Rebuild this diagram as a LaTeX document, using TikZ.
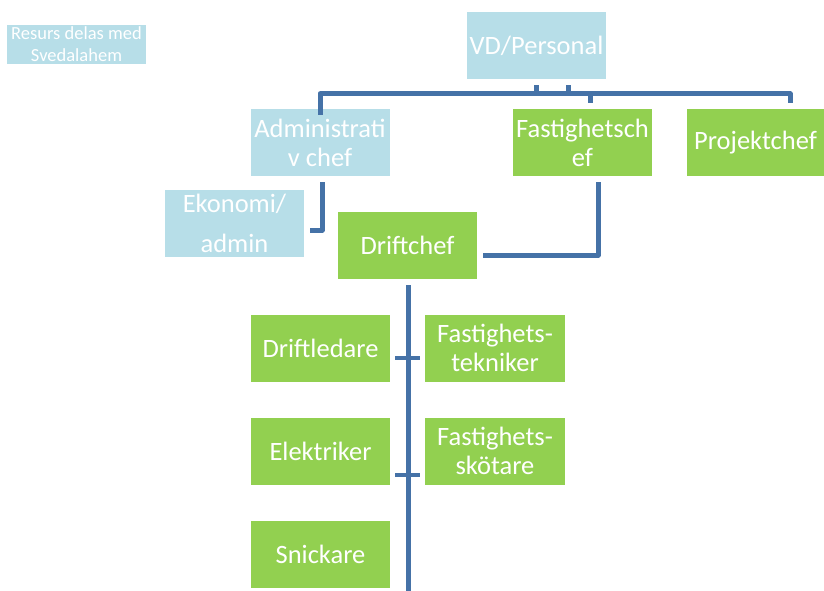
\documentclass[tikz,border=0pt]{standalone}
\usepackage{fontspec}
\setmainfont{Carlito}
\usetikzlibrary{calc}
\definecolor{lblue}{RGB}{183,222,232}
\definecolor{lgreen}{RGB}{146,208,80}
\definecolor{conncol}{RGB}{69,114,167}
\begin{document}
\begin{tikzpicture}[x=1pt,y=-1pt,
  box/.style={fill=#1,draw=none,text=white,align=center,inner sep=0pt,
    minimum width=139pt,minimum height=67pt,
    font=\fontsize{26.5}{29}\selectfont},
  conn/.style={draw=conncol,line width=5pt,line join=round}]
\useasboundingbox (0,0) rectangle (824,590);
% boxes
\node[box=lblue,minimum height=39pt,font=\fontsize{18.5}{22}\selectfont] (res) at (76.5,44.5) {Resurs delas med\\Svedalahem};
\node[box=lblue] (vd) at (536.5,45.5) {VD/Personal};
\node[box=lblue] (adm) at (320,142.5) {Administrati\\v chef};
\node[box=lgreen] (fc) at (582.5,142.5) {Fastighetsch\\ef};
\node[box=lgreen,minimum width=137pt] (pc) at (755.5,142.5) {Projektchef};
\node[box=lblue,font=\fontsize{26.5}{40}\selectfont] (eko) at (234.5,223.5) {Ekonomi/\\admin};
\node[box=lgreen] (dc) at (407.5,245.5) {Driftchef};
\node[box=lgreen] (dl) at (320.5,348) {Driftledare};
\node[box=lgreen,minimum width=140pt] (ft) at (495,348) {Fastighets-\\tekniker};
\node[box=lgreen] (el) at (320.5,451) {Elektriker};
\node[box=lgreen,minimum width=140pt] (fs) at (495,451) {Fastighets-\\skötare};
\node[box=lgreen] (sn) at (320.5,554) {Snickare};
% connectors
\coordinate (bot) at (408,592);
\draw[conn] ([shift={(0,6)}]adm.north) |- ([shift={(7.5,-15)}]fc.north) -- ([shift={(7.5,-6)}]fc.north);
\draw[conn] ([shift={(7.5,-15)}]fc.north) -| ([shift={(34.5,-6)}]pc.north);
\draw[conn] ([shift={(0,6)}]vd.south) -- ([shift={(0,15)}]vd.south);
\draw[conn] ([shift={(31.5,6)}]vd.south) -- ([shift={(31.5,15)}]vd.south);
\draw[conn] ([shift={(2,6)}]adm.south) |- ([shift={(6,6.5)}]eko.east);
\draw[conn] ([shift={(15.5,6)}]fc.south) |- ([shift={(6,9.5)}]dc.east);
\draw[conn] ([shift={(0.5,6)}]dc.south) -- (bot);
\draw[conn,line width=4pt] ([shift={(5,10)}]dl.east) -- ([shift={(-5,10)}]ft.west);
\draw[conn,line width=4pt] ([shift={(5,24)}]el.east) -- ([shift={(-5,24)}]fs.west);
\end{tikzpicture}
\end{document}
